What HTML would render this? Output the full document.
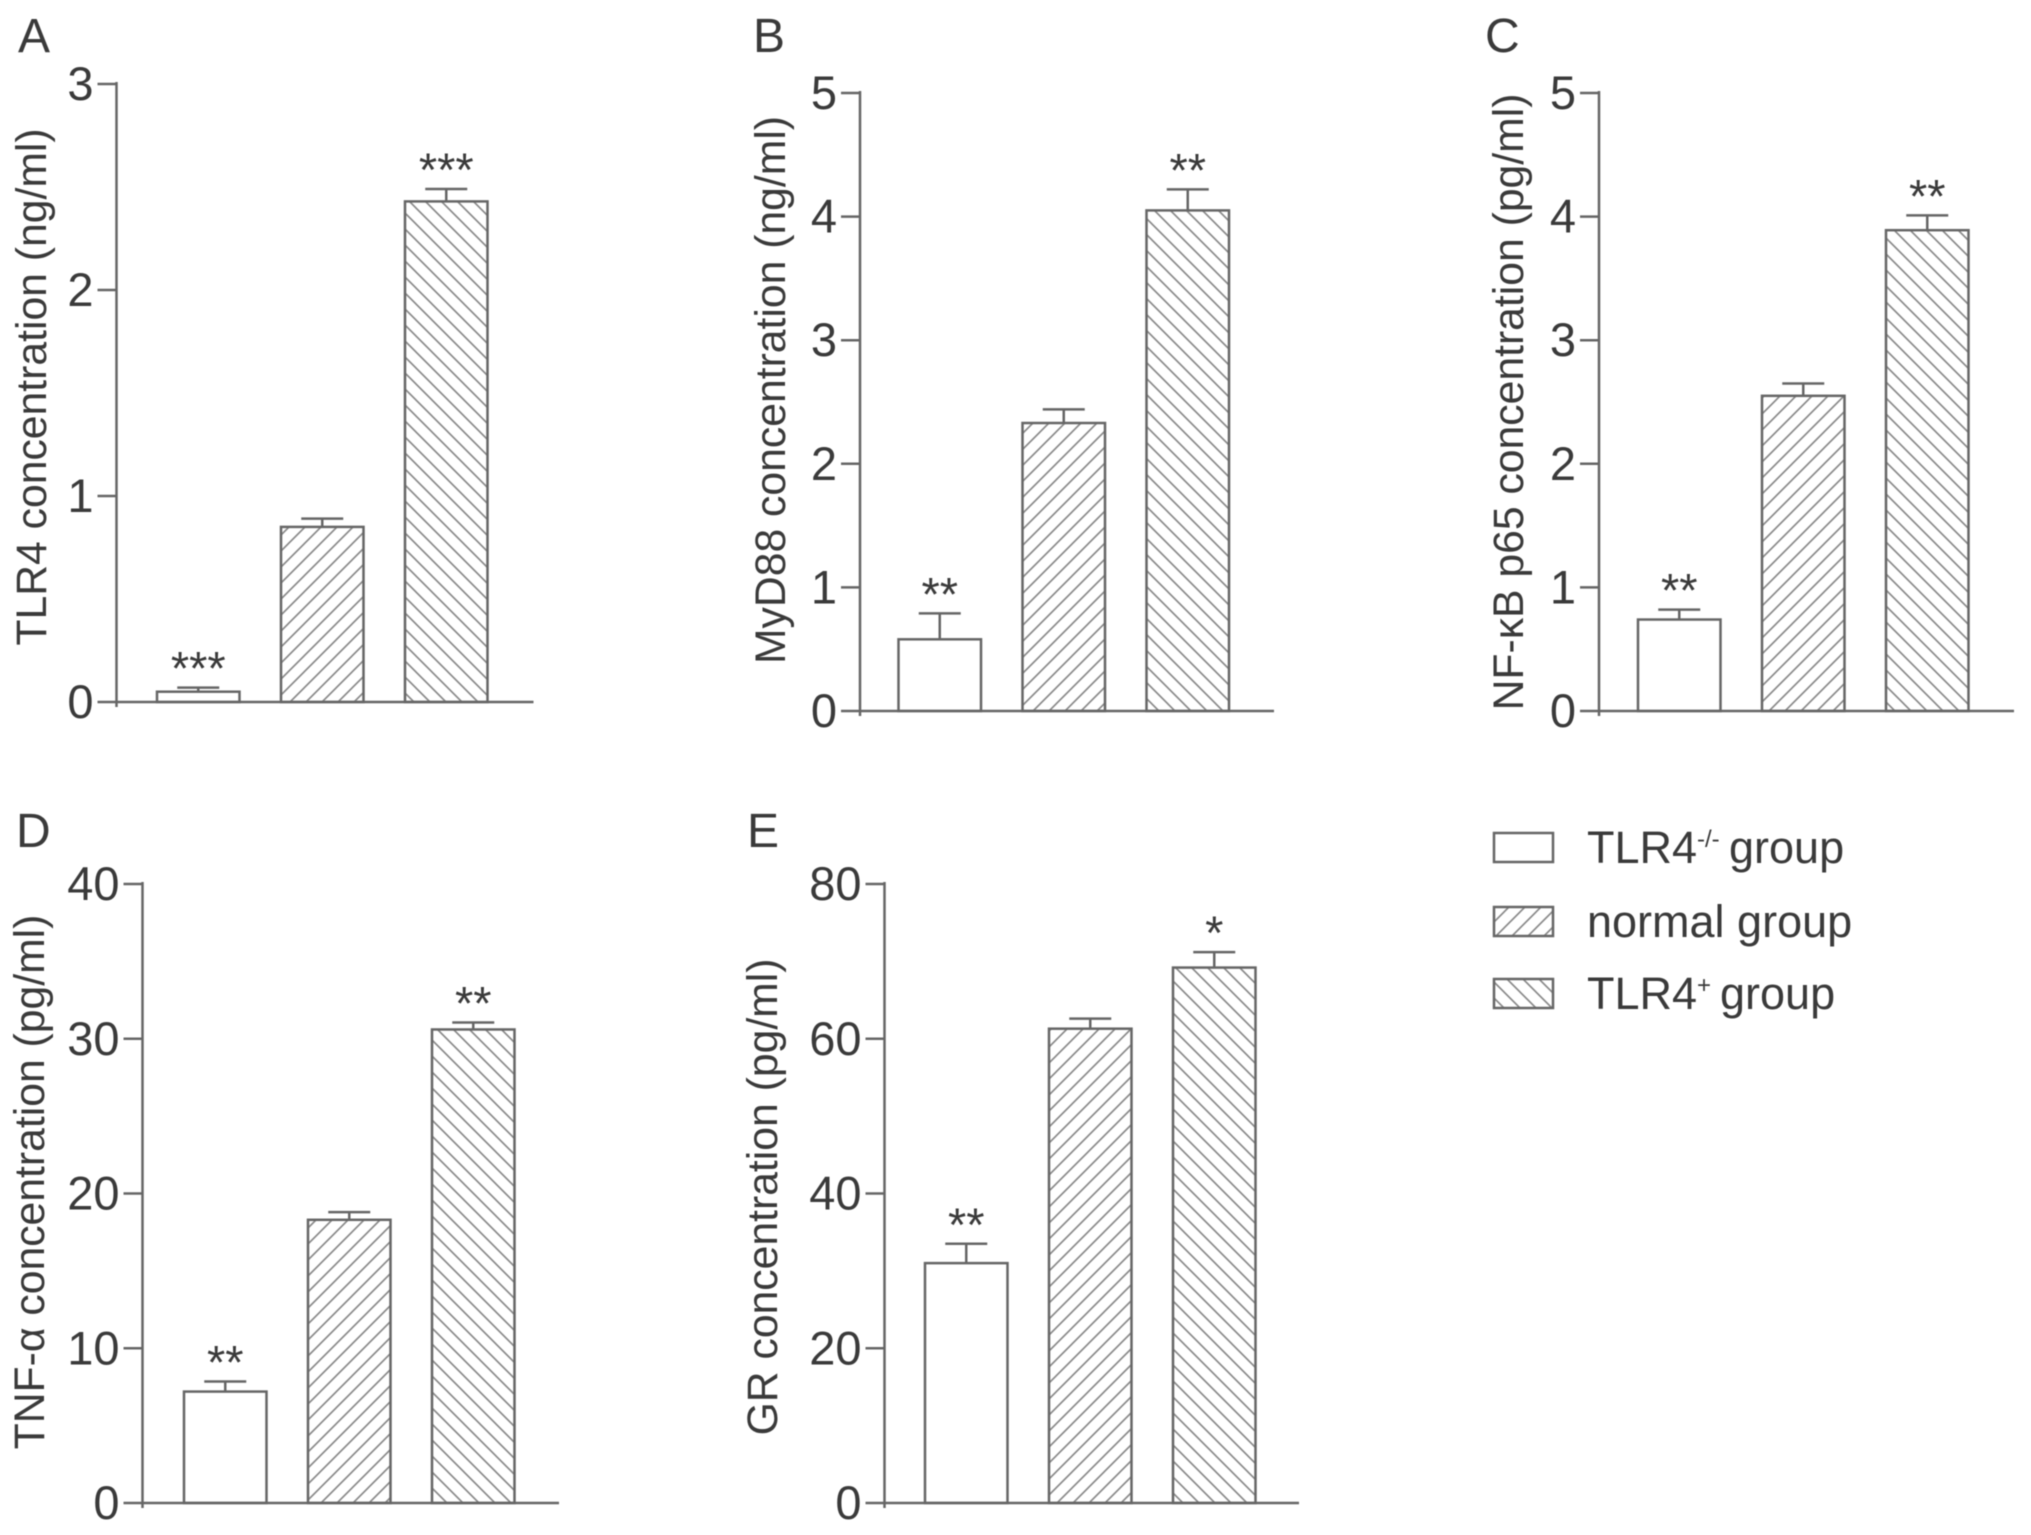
<!DOCTYPE html>
<html lang="en">
<head>
<meta charset="utf-8">
<title>TLR4 pathway concentrations</title>
<style>
html,body{margin:0;padding:0;background:#fff;}
svg{display:block;filter:blur(0.6px);}
text{font-family:"Liberation Sans",Arial,sans-serif;fill:#3a3a3a;}
</style>
</head>
<body>
<svg id="figure" xmlns="http://www.w3.org/2000/svg" width="2031" height="1535" viewBox="0 0 2031 1535">
  <defs>
    <pattern id="hatch-normal" patternUnits="userSpaceOnUse" width="16" height="16">
      <path d="M-4 4L4 -4M0 16L16 0M12 20L20 12" stroke="#8c8c8c" stroke-width="1.7" fill="none"/>
    </pattern>
    <pattern id="hatch-plus" patternUnits="userSpaceOnUse" width="16" height="16">
      <path d="M-4 12L4 20M0 0L16 16M12 -4L20 4" stroke="#8c8c8c" stroke-width="1.7" fill="none"/>
    </pattern>
  </defs>
  <rect width="2031" height="1535" fill="#fff"/>
  <g id="panels"></g>
  <g>
    <g>
      <rect x="1494" y="833" width="59" height="29" fill="#fff" stroke="#666" stroke-width="2.5"/>
      <text x="1587" y="863" font-size="45">TLR4<tspan x="1697" y="847" font-size="24">-/-</tspan><tspan x="1729" y="863">group</tspan></text>
    </g>
    <g>
      <rect x="1494" y="907" width="59" height="29" fill="url(#hatch-normal)" stroke="#666" stroke-width="2.5"/>
      <text x="1587" y="937" font-size="45">normal group</text>
    </g>
    <g>
      <rect x="1494" y="979" width="59" height="29" fill="url(#hatch-plus)" stroke="#666" stroke-width="2.5"/>
      <text x="1587" y="1009" font-size="45">TLR4<tspan x="1697" y="993" font-size="24">+</tspan><tspan x="1720" y="1009">group</tspan></text>
    </g>
  </g>
</svg>
<script>
// Chart data
const groups = ['TLR4-/- group', 'normal group', 'TLR4+ group'];

const tlr4Means = [0.05, 0.85, 2.43];
const tlr4Errors = [0.02, 0.04, 0.06];
const tlr4Stars = ['***', '', '***'];
const tlr4Ticks = [0, 1, 2, 3];

const myd88Means = [0.58, 2.33, 4.05];
const myd88Errors = [0.21, 0.11, 0.17];
const myd88Stars = ['**', '', '**'];
const myd88Ticks = [0, 1, 2, 3, 4, 5];

const nfkbMeans = [0.74, 2.55, 3.89];
const nfkbErrors = [0.08, 0.10, 0.12];
const nfkbStars = ['**', '', '**'];
const nfkbTicks = [0, 1, 2, 3, 4, 5];

const tnfMeans = [7.2, 18.3, 30.6];
const tnfErrors = [0.65, 0.5, 0.45];
const tnfStars = ['**', '', '**'];
const tnfTicks = [0, 10, 20, 30, 40];

const grMeans = [31, 61.3, 69.2];
const grErrors = [2.5, 1.3, 2.0];
const grStars = ['**', '', '*'];
const grTicks = [0, 20, 40, 60, 80];

const panelSpecs = [
  {key:'a', letter:'A', letterX:18, letterY:52, title:'TLR4 concentration (ng/ml)', means:tlr4Means, errors:tlr4Errors, stars:tlr4Stars, ticks:tlr4Ticks, axisX:116.5, xEnd:533.5, y0:702, yTop:84, barLeft:157, titleX:46, titleY:387},
  {key:'b', letter:'B', letterX:753, letterY:52, title:'MyD88 concentration (ng/ml)', means:myd88Means, errors:myd88Errors, stars:myd88Stars, ticks:myd88Ticks, axisX:860, xEnd:1274, y0:711, yTop:93, barLeft:898.5, titleX:785, titleY:390},
  {key:'c', letter:'C', letterX:1485, letterY:52, title:'NF-\u03BAB p65 concentration (pg/ml)', means:nfkbMeans, errors:nfkbErrors, stars:nfkbStars, ticks:nfkbTicks, axisX:1599, xEnd:2014, y0:711, yTop:93, barLeft:1638, titleX:1523, titleY:402},
  {key:'d', letter:'D', letterX:16, letterY:847, title:'TNF-\u03B1 concentration (pg/ml)', means:tnfMeans, errors:tnfErrors, stars:tnfStars, ticks:tnfTicks, axisX:142.5, xEnd:559, y0:1503, yTop:884, barLeft:184, titleX:44, titleY:1182},
  {key:'e', letter:'E', letterX:747, letterY:847, title:'GR concentration (pg/ml)', means:grMeans, errors:grErrors, stars:grStars, ticks:grTicks, axisX:884.5, xEnd:1299, y0:1503, yTop:884, barLeft:925, titleX:777, titleY:1197}
];

const SVG_NS = 'http://www.w3.org/2000/svg';
const BAR_WIDTH = 82.5;
const BAR_STEP = 124;
const fills = ['#ffffff', 'url(#hatch-normal)', 'url(#hatch-plus)'];
const LINE = '#666666';

function make(parent, tag, attrs, content) {
  const node = document.createElementNS(SVG_NS, tag);
  for (const k in attrs) node.setAttribute(k, attrs[k]);
  if (content !== undefined) node.textContent = content;
  parent.appendChild(node);
  return node;
}

function drawPanel(p) {
  const maxTick = p.ticks[p.ticks.length - 1];
  const yScale = v => p.y0 - (v / maxTick) * (p.y0 - p.yTop);
  const xScale = i => p.barLeft + i * BAR_STEP;

  const g = make(document.getElementById('panels'), 'g', {});
  
  

  const letter = make(g, 'text', {x:p.letterX, y:p.letterY, 'font-size':48}, p.letter);
  
  

  const title = make(g, 'text', {x:0, y:0, 'font-size':42.7, 'text-anchor':'middle', transform:'translate(' + p.titleX + ' ' + p.titleY + ') rotate(-90)'}, p.title);
  
  

  p.means.forEach(function (mean, i) {
    const x = xScale(i);
    const cx = x + BAR_WIDTH / 2;
    const topY = yScale(mean);
    const errY = yScale(mean + p.errors[i]);

    const stem = make(g, 'line', {x1:cx, x2:cx, y1:topY, y2:errY, stroke:LINE, 'stroke-width':2.5});
    
    

    const cap = make(g, 'line', {x1:cx - 21, x2:cx + 21, y1:errY, y2:errY, stroke:LINE, 'stroke-width':2.5});
    
    

    const bar = make(g, 'rect', {x:x, y:topY, width:BAR_WIDTH, height:p.y0 - topY, fill:fills[i], stroke:LINE, 'stroke-width':2.5});
    
    
    make(bar, 'title', {}, groups[i]);

    if (p.stars[i]) {
      const star = make(g, 'text', {x:cx, y:errY - 3, 'font-size':47, 'text-anchor':'middle'}, p.stars[i]);
      
      
    }
  });

  const yAxis = make(g, 'line', {x1:p.axisX, x2:p.axisX, y1:p.yTop - 2, y2:p.y0 + 5, stroke:LINE, 'stroke-width':2.5});
  
  

  const xAxis = make(g, 'line', {x1:p.axisX, x2:p.xEnd, y1:p.y0, y2:p.y0, stroke:LINE, 'stroke-width':2.5});
  
  

  p.ticks.forEach(function (t) {
    const y = yScale(t);
    const tick = make(g, 'line', {x1:p.axisX - 19, x2:p.axisX, y1:y, y2:y, stroke:LINE, 'stroke-width':2.5});
    
    

    const label = make(g, 'text', {x:p.axisX - 23, y:y + 16, 'font-size':47, 'text-anchor':'end'}, String(t));
    
    
  });
}

panelSpecs.forEach(drawPanel);
</script>
</body>
</html>
